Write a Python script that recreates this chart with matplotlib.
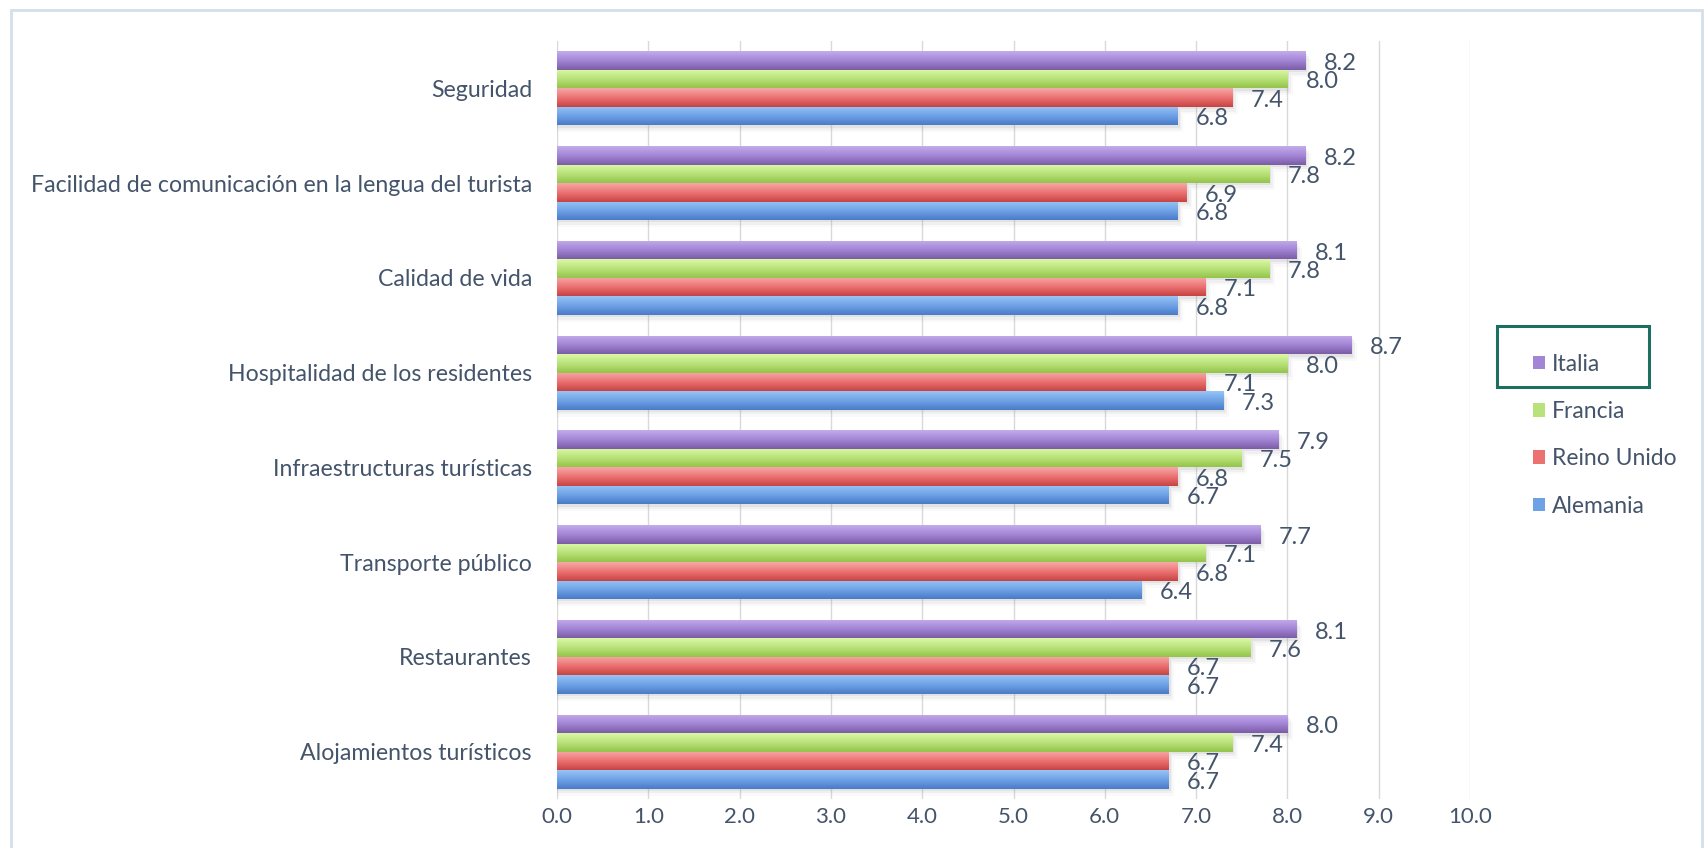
import numpy as np
import matplotlib
matplotlib.use("Agg")
import matplotlib.pyplot as plt
from matplotlib.patches import Rectangle, Patch
from matplotlib.colors import to_rgb

plt.rcParams['font.family'] = ['Lato', 'DejaVu Sans']

categories = [
    "Seguridad",
    "Facilidad de comunicación en la lengua del turista",
    "Calidad de vida",
    "Hospitalidad de los residentes",
    "Infraestructuras turísticas",
    "Transporte público",
    "Restaurantes",
    "Alojamientos turísticos",
]
series = ["Italia", "Francia", "Reino Unido", "Alemania"]
italia = [8.2, 8.2, 8.1, 8.7, 7.9, 7.7, 8.1, 8.0]
francia = [8.0, 7.8, 7.8, 8.0, 7.5, 7.1, 7.6, 7.4]
reino_unido = [7.4, 6.9, 7.1, 7.1, 6.8, 6.8, 6.7, 6.7]
alemania = [6.8, 6.8, 6.8, 7.3, 6.7, 6.4, 6.7, 6.7]
values = [italia, francia, reino_unido, alemania]
x_ticks = [0, 1, 2, 3, 4, 5, 6, 7, 8, 9, 10]

# light / mid / dark shades for the vertical gradient of each series
shades = [
    ("#c3aceb", "#a385d6", "#7a5ca6"),
    ("#dcf8a6", "#b9e27a", "#94c44b"),
    ("#f6a8a8", "#ec7272", "#c74343"),
    ("#98c4f6", "#6ea2e6", "#4a7bc8"),
]
text_color = "#44546a"

fig = plt.figure(figsize=(17.05, 8.48), dpi=100)
fig.patch.set_facecolor("white")
ax = fig.add_axes([557 / 1705, 1 - 799 / 848, (1470 - 557) / 1705, (799 - 41) / 848])

n = len(categories)
h = 0.195
centers = np.arange(n)[::-1].astype(float)
offsets = [1.5 * h, 0.5 * h, -0.5 * h, -1.5 * h]


def gradient_image(light, mid, dark, rows=64):
    a, b, c = np.array(to_rgb(light)), np.array(to_rgb(mid)), np.array(to_rgb(dark))
    t = np.linspace(0, 1, rows)
    img = np.empty((rows, 1, 3))
    for i, v in enumerate(t):
        img[i, 0] = a + (b - a) * (v / 0.5) if v < 0.5 else b + (c - b) * ((v - 0.5) / 0.5)
    return img


for s, (vals, off, shade) in enumerate(zip(values, offsets, shades)):
    ys = centers + off
    # soft drop shadow under each bar
    for k, alpha in enumerate([0.10, 0.07, 0.04]):
        ax.barh(ys - 0.025 * (k + 1), np.array(vals) + 0.02 * (k + 1), height=h,
                color="#7f7f7f", alpha=alpha, linewidth=0, zorder=2)
    bars = ax.barh(ys, vals, height=h, color=shade[1], linewidth=0, zorder=3,
                   label=series[s])
    img = gradient_image(*shade)
    for bar in bars:
        x0, y0 = bar.get_x(), bar.get_y()
        w, hh = bar.get_width(), bar.get_height()
        im = ax.imshow(img, extent=(x0, x0 + w, y0, y0 + hh), aspect="auto",
                       origin="upper", zorder=4, interpolation="bilinear")
        im.set_clip_path(bar)
    for y, v in zip(ys, vals):
        ax.text(v + 0.2, y - 0.03, f"{v:.1f}", va="center", ha="left",
                fontsize=17, color=text_color, zorder=5)

ax.set_xlim(0, 10)
ax.set_ylim(-0.5, n - 0.5)
ax.set_xticks(x_ticks)
ax.set_xticklabels([f"{t:.1f}" for t in x_ticks])
ax.set_yticks(centers)
ax.set_yticklabels(categories)
ax.tick_params(axis="both", length=0, colors=text_color)
ax.tick_params(axis="y", pad=18, labelsize=16.7)
ax.tick_params(axis="x", pad=6, labelsize=16)
for sp in ax.spines.values():
    sp.set_visible(False)
ax.grid(axis="x", color="#d9d9d9", linewidth=1, zorder=0)
ax.set_axisbelow(True)

handles = [Patch(facecolor=sh[1], edgecolor="none") for sh in shades]
leg = fig.legend(handles, series, loc="upper left",
                 bbox_to_anchor=(1512 / 1705, 1 - 333 / 848), frameon=False,
                 fontsize=16.5, labelcolor=text_color, handlelength=0.55,
                 handleheight=0.55, handletextpad=0.3, labelspacing=1.15)

# highlight box around the first legend entry
fig.add_artist(Rectangle((1497 / 1705, 1 - 387 / 848), 152 / 1705, 61 / 848,
                         transform=fig.transFigure, fill=False,
                         edgecolor="#1f6e62", linewidth=2.2))
# chart area outline
fig.add_artist(Rectangle((11 / 1705, -0.01), 1691 / 1705, 1 - 10 / 848 + 0.01,
                         transform=fig.transFigure, fill=False,
                         edgecolor="#d5dee9", linewidth=2))

fig.savefig("out.png", dpi=100, facecolor="white")
